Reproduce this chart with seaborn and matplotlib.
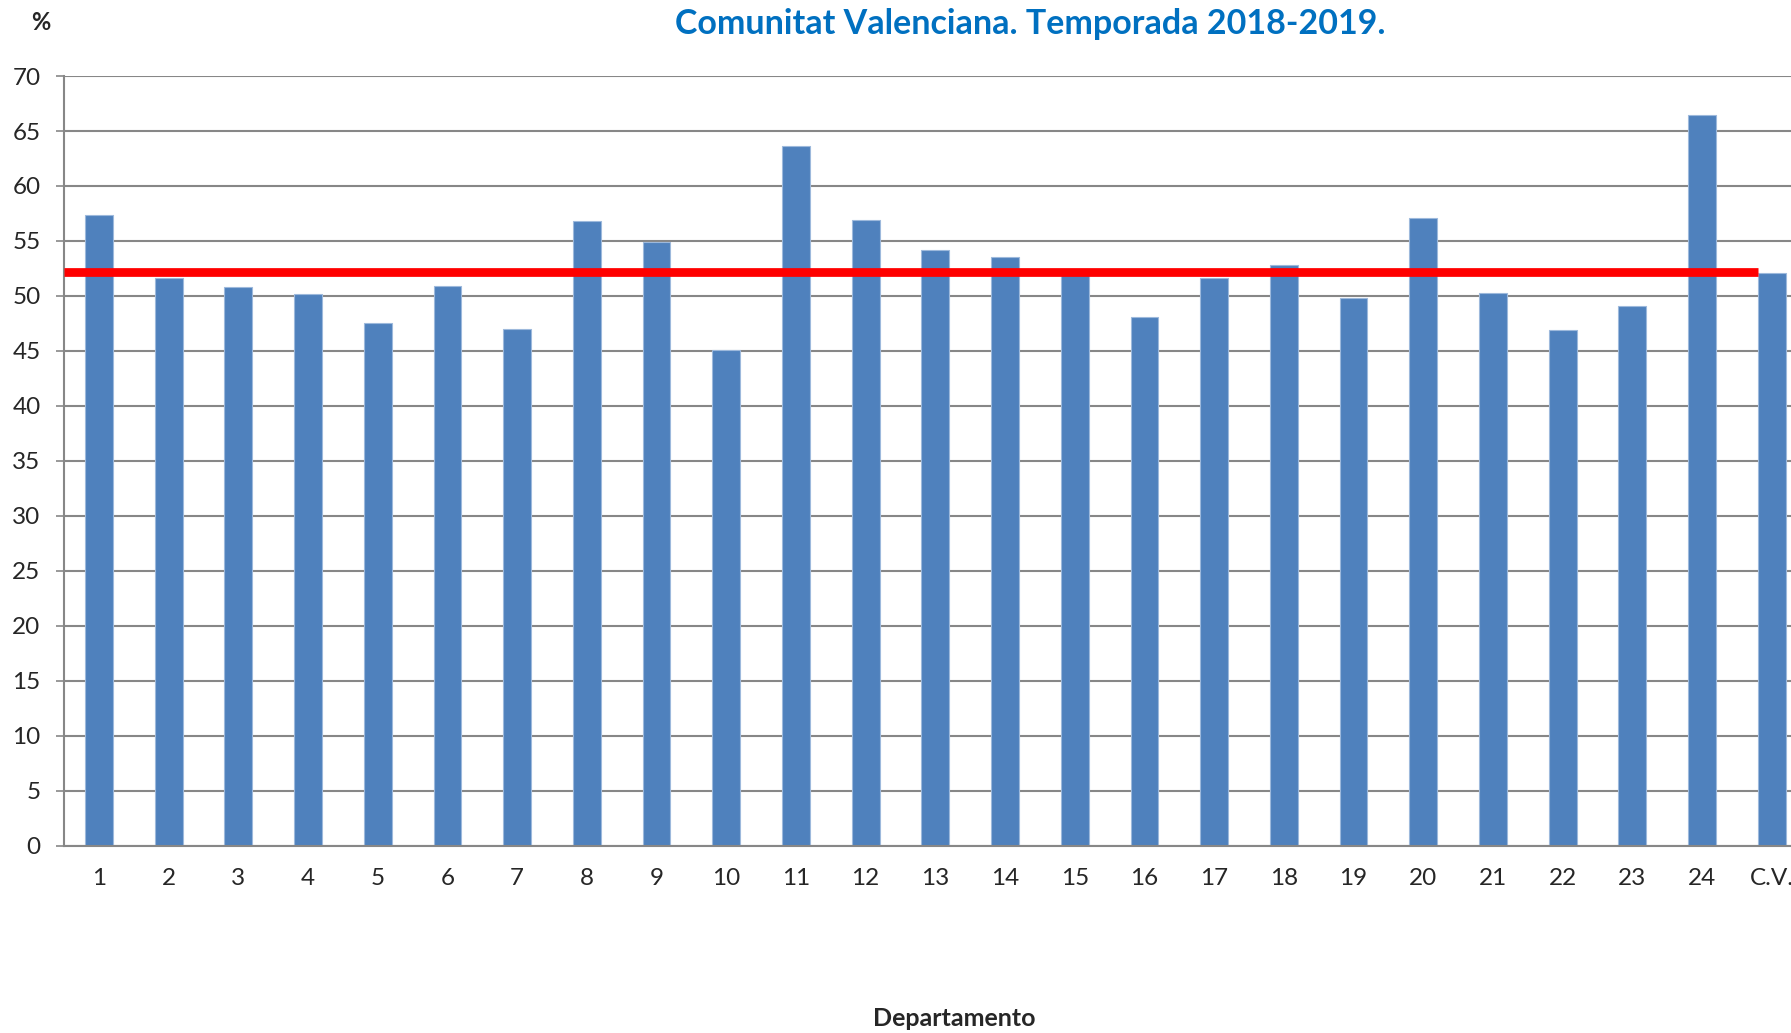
import numpy as np
import pandas as pd
import matplotlib
matplotlib.use('Agg')
import matplotlib.pyplot as plt
import seaborn as sns

# Datos (% por departamento)
departamentos = [str(i) for i in range(1, 25)] + ['C.V.']
valores = [57.4, 51.6, 50.8, 50.2, 47.5, 50.9, 47.0, 56.8, 54.9, 45.1,
           63.6, 56.9, 54.2, 53.5, 52.1, 48.1, 51.6, 52.8, 49.8, 57.1,
           50.3, 46.9, 49.1, 66.5, 52.1]
referencia_cv = 52.15  # línea roja (media Comunitat Valenciana)

titulo = 'Comunitat Valenciana. Temporada 2018-2019.'
etiqueta_x = 'Departamento'
etiqueta_y = '%'

df = pd.DataFrame({'Departamento': departamentos, 'Valor': valores})

sns.set_style('white')
plt.rcParams['font.family'] = ['Lato', 'DejaVu Sans']

fig = plt.figure(figsize=(17.91, 10.33), dpi=100)
ax = fig.add_axes([0.0358, 0.1813, 0.9729, 0.7451])

ancho = 0.4
sns.barplot(data=df, x='Departamento', y='Valor', order=departamentos,
            color='#4F81BD', saturation=1, width=ancho,
            edgecolor='#9DB9DC', linewidth=0.8, ax=ax, zorder=2)

# línea roja de referencia: desde el eje hasta la barra C.V.
ax.hlines(referencia_cv, -0.5, len(departamentos) - 1 - ancho / 2,
          color='#FF0000', linewidth=6.3, zorder=3, capstyle='butt')

gris = '#878787'
ax.set_xlim(-0.5, len(departamentos) - 0.5)
ax.set_ylim(0, 70)
ax.set_yticks(np.arange(0, 71, 5))
ax.yaxis.grid(True, color=gris, linewidth=1.5, zorder=0)
ax.set_axisbelow(True)

for lado in ['top', 'right']:
    ax.spines[lado].set_visible(False)
for lado in ['left', 'bottom']:
    ax.spines[lado].set_color(gris)
    ax.spines[lado].set_linewidth(1.5)

ax.set_xticks(np.arange(-0.5, len(departamentos), 1), minor=True)
ax.tick_params(axis='x', which='major', length=0, pad=16, labelsize=17.5)
ax.tick_params(axis='x', which='minor', length=6, width=1.2, color=gris, direction='out')
ax.tick_params(axis='y', length=6, width=1.2, color=gris, direction='out', pad=11, labelsize=17.5, left=True)

ax.set_xlabel('')
ax.set_ylabel('')
fig.text(0.533, 0.0145, etiqueta_x, ha='center', va='center', fontsize=18, fontweight='bold')
fig.text(0.0225, 0.978, etiqueta_y, ha='center', va='center', fontsize=17, fontweight='bold')
fig.text(0.575, 0.977, titulo, ha='center', va='center', fontsize=24.5,
         fontweight='bold', color='#0070C0')

fig.savefig('out.png', dpi=100)
